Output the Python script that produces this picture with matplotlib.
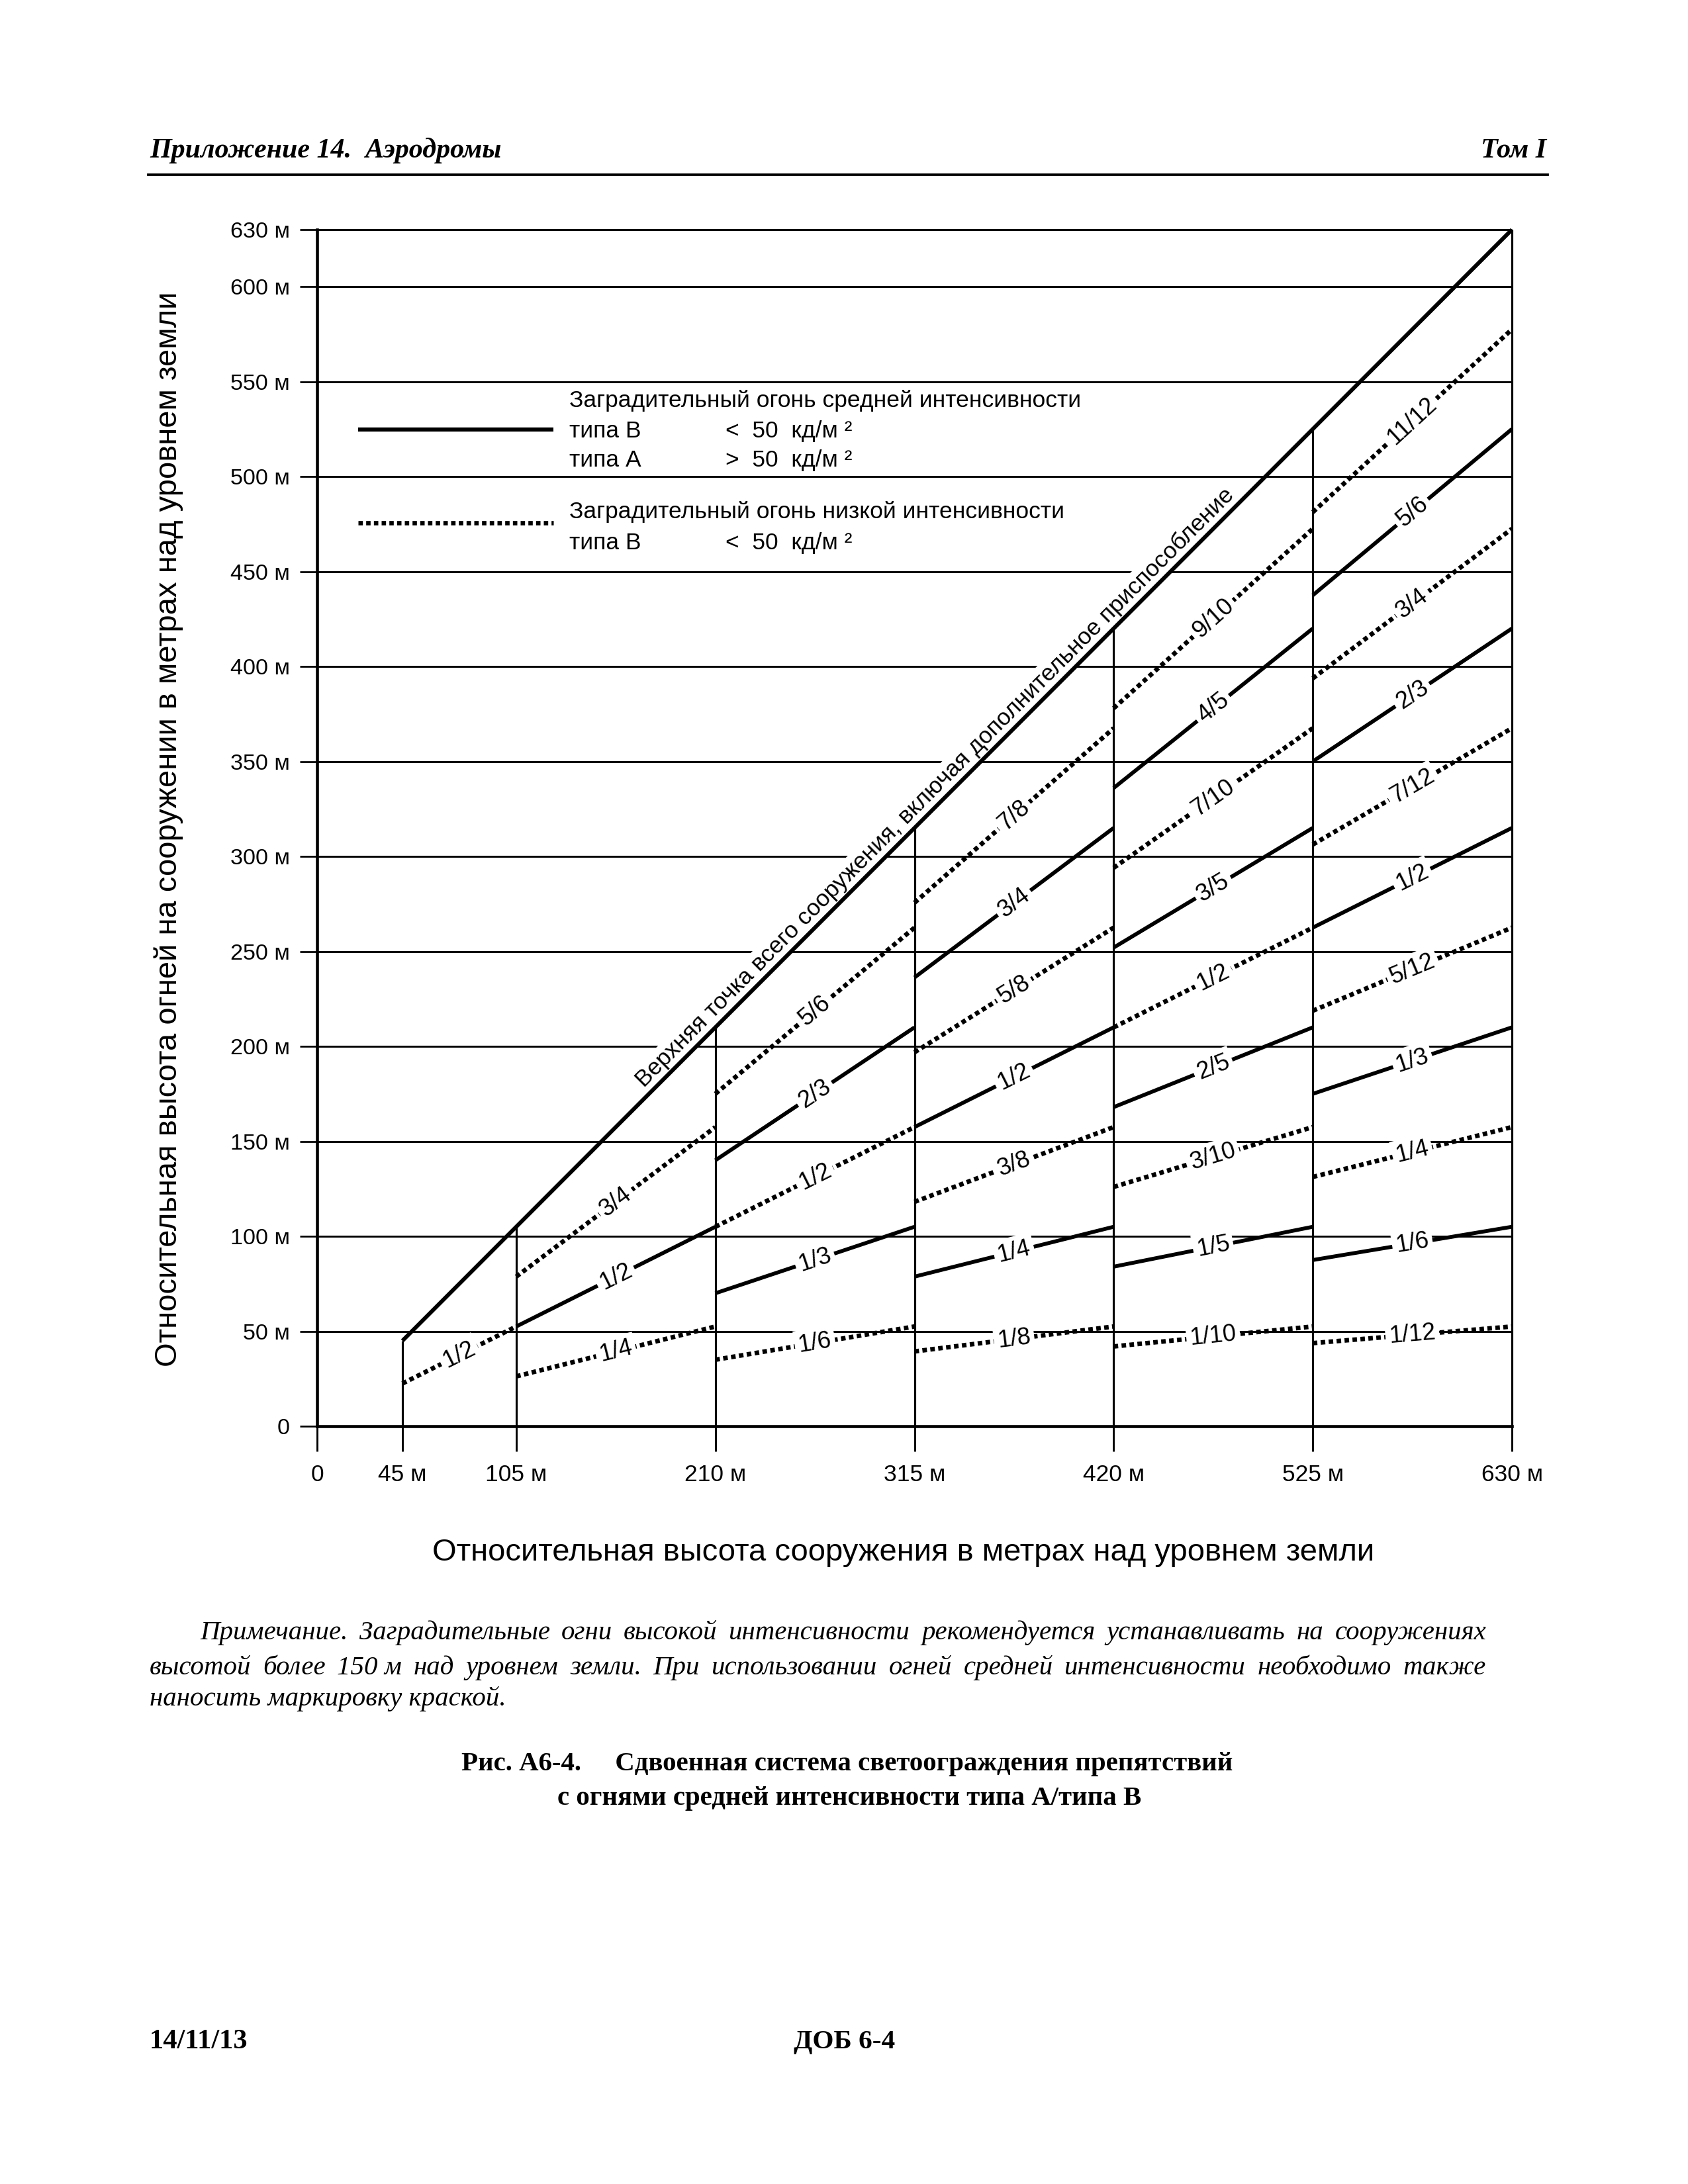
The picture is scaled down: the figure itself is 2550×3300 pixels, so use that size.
import matplotlib
matplotlib.use("Agg")
import matplotlib.pyplot as plt
from matplotlib.lines import Line2D
from matplotlib.transforms import offset_copy
import numpy as np
from fractions import Fraction

# высоты сооружения (м), на которых меняется число ярусов огней
x_breaks = [45, 105, 210, 315, 420, 525, 630]
# верхняя точка сооружения
top_x = [45, 630]
top_y = [45, 630]
# доли высоты для ярусов огней в каждом интервале (нечётные - пунктир)
seg_labels = [
    ["1/2"],
    ["1/4", "1/2", "3/4"],
    ["1/6", "1/3", "1/2", "2/3", "5/6"],
    ["1/8", "1/4", "3/8", "1/2", "5/8", "3/4", "7/8"],
    ["1/10", "1/5", "3/10", "2/5", "1/2", "3/5", "7/10", "4/5", "9/10"],
    ["1/12", "1/6", "1/4", "1/3", "5/12", "1/2", "7/12", "2/3", "3/4", "5/6", "11/12"],
]

x_ticks = [0, 45, 105, 210, 315, 420, 525, 630]
x_tick_labels = ["0", "45 м", "105 м", "210 м", "315 м", "420 м", "525 м", "630 м"]
y_ticks = [0, 50, 100, 150, 200, 250, 300, 350, 400, 450, 500, 550, 600, 630]
y_tick_labels = ["0"] + [f"{v} м" for v in y_ticks[1:]]

diag_text = "Верхняя точка всего сооружения, включая дополнительное приспособление"
x_label = "Относительная высота сооружения в метрах над уровнем земли"
y_label = "Относительная высота огней на сооружении в метрах над уровнем земли"

note_lines = [
    ["Примечание.", "Заградительные", "огни", "высокой", "интенсивности",
     "рекомендуется", "устанавливать", "на", "сооружениях"],
    ["высотой", "более", "150 м", "над", "уровнем", "земли.", "При", "использовании",
     "огней", "средней", "интенсивности", "необходимо", "также"],
    ["наносить маркировку краской."],
]
caption = ["Рис. А6-4.     Сдвоенная система светоограждения препятствий",
           "с огнями средней интенсивности типа А/типа В"]

SANS = ["Liberation Sans", "DejaVu Sans"]
SERIF = ["Liberation Serif", "DejaVu Serif"]
plt.rcParams["font.family"] = SANS

W, H = 2550, 3300
fig = plt.figure(figsize=(8.5, 11), dpi=300)
ax = fig.add_axes([479 / W, 1 - 2155 / H, (2284 - 479) / W, (2155 - 347) / H])
ax.set_xlim(0, 630)
ax.set_ylim(0, 630)
for s in ax.spines.values():
    s.set_visible(False)
ax.set_xticks(x_ticks, x_tick_labels, fontsize=8.5)
ax.set_yticks(y_ticks, y_tick_labels, fontsize=8.2)
ax.tick_params(axis="x", length=9, width=0.7, pad=4.8)
ax.tick_params(axis="y", length=6.3, width=0.65, pad=3.6)

# сетка и оси
ax.hlines(y_ticks[1:], 0, 630, color="k", lw=0.7, zorder=1, clip_on=False)
ax.plot([0, 630], [0, 0], color="k", lw=1.1, zorder=2, clip_on=False)
ax.plot([0, 0], [0, 630], color="k", lw=1.1, zorder=2, clip_on=False)
ax.vlines(x_breaks, 0, x_breaks, color="k", lw=0.75, zorder=2, clip_on=False)
ax.plot(top_x, top_y, color="k", lw=1.45, zorder=4, solid_capstyle="butt", clip_on=False)

DOT = (0, (1, 0.75))
for xa, xb, labels in zip(x_breaks[:-1], x_breaks[1:], seg_labels):
    for i, lab in enumerate(labels):
        f = float(Fraction(lab))
        dotted = i % 2 == 0
        ax.plot([xa, xb], [f * xa, f * xb], color="k",
                lw=1.65 if dotted else 1.4, ls=DOT if dotted else "-",
                dash_capstyle="butt", solid_capstyle="butt", zorder=3, clip_on=False)
        xm = (xa + xb) / 2
        ax.text(xm, f * xm, lab, rotation=np.degrees(np.arctan(f)),
                transform_rotates_text=True, rotation_mode="anchor",
                ha="center", va="center", fontsize=8.7, zorder=5,
                bbox=dict(fc="white", ec="none", pad=1.3))

# надпись вдоль верхней линии
tr = offset_copy(ax.transData, fig=fig, x=-1.9, y=1.9, units="points")
ax.text(331, 331, diag_text, transform=tr, rotation=45, transform_rotates_text=True,
        rotation_mode="anchor", ha="center", va="baseline", fontsize=8.5, zorder=3.5,
        bbox=dict(fc="white", ec="none", pad=1.0))

# легенда
ax.plot([21.6, 124.6], [524.7, 524.7], color="k", lw=1.5, solid_capstyle="butt", zorder=3)
ax.plot([21.6, 124.6], [475.6, 475.6], color="k", lw=1.6, ls=DOT, dash_capstyle="butt", zorder=3)
leg_rows = [
    (540, "Заградительный огонь средней интенсивности", None),
    (524, "типа В", "<  50  кд/м ²"),
    (508.5, "типа А", ">  50  кд/м ²"),
    (481.5, "Заградительный огонь низкой интенсивности", None),
    (465, "типа В", "<  50  кд/м ²"),
]
for yy, t1, t2 in leg_rows:
    ax.text(133, yy, t1, ha="left", va="center", fontsize=8.5, zorder=5)
    if t2:
        ax.text(215.4, yy, t2, ha="left", va="center", fontsize=8.5, zorder=5)

fig.text(1365 / W, 1 - 2346 / H, x_label, ha="center", va="center", fontsize=11.3)
fig.text(255 / W, 1 - 1253 / H, y_label, ha="center", va="center", rotation=90, fontsize=11.3)

# оформление страницы
fig.text(226 / W, 1 - 238 / H, "Приложение 14.  Аэродромы", family=SERIF,
         weight="bold", style="italic", fontsize=10.1, va="baseline")
fig.text(2336 / W, 1 - 238 / H, "Том I", family=SERIF, weight="bold",
         style="italic", fontsize=10.1, va="baseline", ha="right")
fig.add_artist(Line2D([224 / W, 2338 / W], [1 - 264 / H, 1 - 264 / H],
                      transform=fig.transFigure, color="k", lw=0.9))


def justify_line(words, x0, x1, y, **kw):
    r = fig.canvas.get_renderer()
    texts = [fig.text(x0, y, w, **kw) for w in words]
    widths = [t.get_window_extent(r).width / fig.bbox.width for t in texts]
    if len(words) == 1:
        return
    gap = (x1 - x0 - sum(widths)) / (len(words) - 1)
    x = x0
    for t, w in zip(texts, widths):
        t.set_x(x)
        x += w + gap


note_kw = dict(family=SERIF, style="italic", fontsize=9.8, va="baseline")
justify_line(note_lines[0], 302 / W, 2245 / W, 1 - 2477 / H, **note_kw)
justify_line(note_lines[1], 226 / W, 2245 / W, 1 - 2530 / H, **note_kw)
justify_line(note_lines[2], 226 / W, 2245 / W, 1 - 2577 / H, **note_kw)

fig.text(1280 / W, 1 - 2665 / H, caption[0], family=SERIF, weight="bold",
         fontsize=9.8, ha="center", va="center")
fig.text(1283 / W, 1 - 2718 / H, caption[1], family=SERIF, weight="bold",
         fontsize=9.8, ha="center", va="center")

fig.text(226 / W, 1 - 3085 / H, "14/11/13", family=SERIF, weight="bold",
         fontsize=10.2, va="center")
fig.text(1199 / W, 1 - 3085 / H, "ДОБ 6-4", family=SERIF, weight="bold",
         fontsize=9.9, va="center")

fig.savefig("out.png", dpi=300, facecolor="white")
